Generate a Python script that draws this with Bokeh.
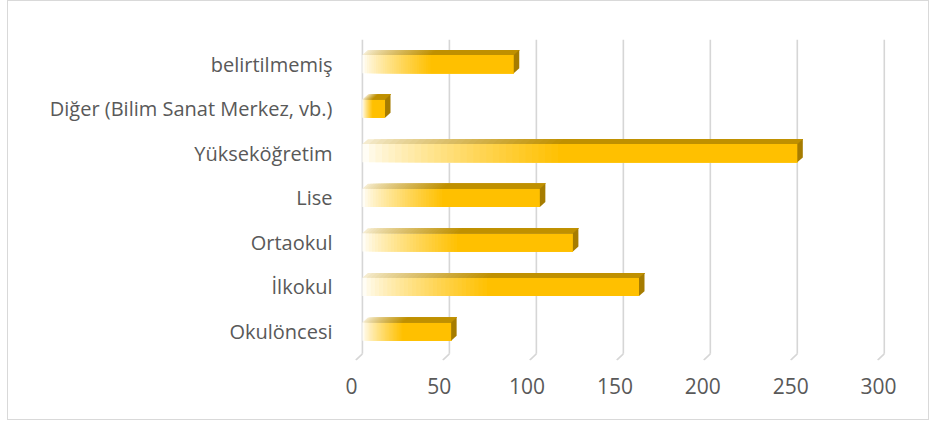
import numpy as np
from bokeh.plotting import figure
from bokeh.models import Range1d, FixedTicker, LinearAxis
from bokeh.embed import file_html
from bokeh.resources import INLINE

categories = ["Okulöncesi", "İlkokul", "Ortaokul", "Lise", "Yükseköğretim",
              "Diğer (Bilim Sanat Merkez, vb.)", "belirtilmemiş"]
values = [51, 159, 121, 102, 250, 13, 87]
x_ticks = [0, 50, 100, 150, 200, 250, 300]

FONT = "Open Sans"
TXT = "#595959"

p = figure(width=922, height=420, output_backend="svg", toolbar_location=None,
           x_range=Range1d(-8, 303), y_range=Range1d(-0.65, 6.55),
           x_axis_location=None,
           min_border_left=340, min_border_right=41, min_border_top=38, min_border_bottom=61)
p.extra_x_ranges = {"lab": Range1d(-1.65, 306.25)}
p.outline_line_color = None
p.grid.visible = False
p.styles = {"border": "1px solid #D9D9D9", "box-sizing": "border-box", "margin-left": "7px"}

# back-wall gridlines and floor ticks
p.segment(x0=x_ticks, y0=[-0.5] * len(x_ticks), x1=x_ticks, y1=[6.55] * len(x_ticks),
          line_color="#D6D6D6", line_width=1.6)
p.segment(x0=x_ticks, y0=[-0.5] * len(x_ticks), x1=[t - 3.8 for t in x_ticks],
          y1=[-0.64] * len(x_ticks), line_color="#D6D6D6", line_width=1.6)

h = 0.205   # half height of front face
d = 0.11    # depth in y units
dx = 3.16   # depth in x units

c0 = np.array([255, 253, 245])
c1 = np.array([255, 192, 0])
t0 = np.array([245, 235, 205])
t1 = np.array([191, 144, 0])
n = 30
frac = 0.45


def hexc(c):
    return "#%02x%02x%02x" % tuple(int(round(q)) for q in c)


for i, v in enumerate(values):
    y = i
    lefts, cols, tcols = [], [], []
    for k in range(n + 1):
        a = k / n
        lefts.append(a * frac * v)
        cols.append(hexc(c0 + (c1 - c0) * a ** 0.8))
        tcols.append(hexc(t0 + (t1 - t0) * a ** 0.8))
    m = len(lefts)
    # front face (overlapping strips for a smooth gradient)
    p.quad(left=lefts, right=[v] * m, bottom=[y - h] * m, top=[y + h] * m,
           fill_color=cols, line_color=None)
    # top face
    xs = [[l, v, v + dx, l + dx] for l in lefts]
    ys = [[y + h, y + h, y + h + d, y + h + d] for _ in lefts]
    p.patches(xs=xs, ys=ys, fill_color=tcols, line_color=None)
    # right face
    p.patch(x=[v, v + dx, v + dx, v], y=[y - h, y - h + d, y + h + d, y + h],
            fill_color="#A67C00", line_color=None)

xax = LinearAxis(x_range_name="lab", ticker=FixedTicker(ticks=x_ticks))
p.add_layout(xax, "below")

p.yaxis.ticker = FixedTicker(ticks=list(range(len(categories))))
p.yaxis.major_label_overrides = {i: c for i, c in enumerate(categories)}
for ax in (xax, p.yaxis[0]):
    ax.axis_line_color = None
    ax.major_tick_line_color = None
    ax.minor_tick_line_color = None
    ax.major_label_text_font = FONT
    ax.major_label_text_color = TXT
p.yaxis.major_label_text_font_size = "20px"
xax.major_label_text_font_size = "21px"
p.yaxis.major_label_standoff = 10
xax.major_label_standoff = 11

open("out.html", "w").write(file_html(p, INLINE))
